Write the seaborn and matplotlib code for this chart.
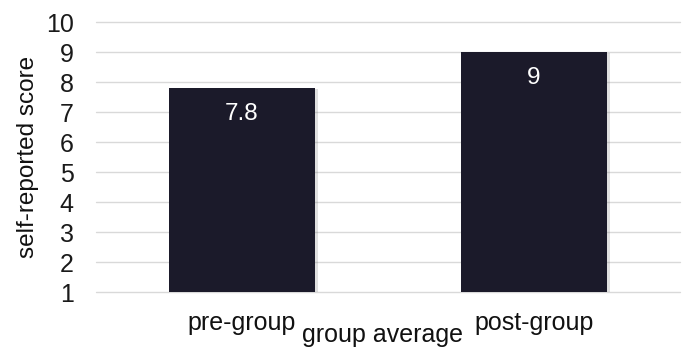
import matplotlib
matplotlib.use("Agg")
import matplotlib.pyplot as plt
import matplotlib.patheffects as pe
import seaborn as sns
import pandas as pd

# Survey results: average self-reported score before and after the group
categories = ["pre-group", "post-group"]
scores = [7.8, 9]
y_ticks = [1, 2, 3, 4, 5, 6, 7, 8, 9, 10]

df = pd.DataFrame({"phase": categories, "score": scores})

sns.set_theme(style="white")
plt.rcParams["font.family"] = ["Liberation Sans", "DejaVu Sans"]

fig = plt.figure(figsize=(6.86, 3.47), dpi=100)
ax = fig.add_axes([0.140, 0.1585, 0.851, 0.778])

bar_color = "#1b1a2a"
sns.barplot(data=df, x="phase", y="score", color=bar_color, width=0.5,
            saturation=1, ax=ax, zorder=3)

shadow = [pe.SimplePatchShadow(offset=(2, -1), alpha=0.18, shadow_rgbFace="#555555"),
          pe.Normal()]
for patch in ax.patches:
    patch.set_edgecolor("none")
    patch.set_path_effects(shadow)

# value labels inside the top of each bar
for i, v in enumerate(scores):
    ax.annotate(f"{v:g}", xy=(i, v), xytext=(0, -10.5), textcoords="offset points",
                ha="center", va="top", color="white", fontsize=17.5, zorder=4)

ax.set_ylim(1, 10)
ax.set_xlim(-0.5, 1.5)
ax.set_yticks(y_ticks)
ax.yaxis.grid(True, color="#d9d9d9", linewidth=1.0, zorder=0)
ax.xaxis.grid(False)
for line in ax.get_ygridlines():
    line.set_clip_on(False)
for side in ["top", "right", "left", "bottom"]:
    ax.spines[side].set_visible(False)

ax.tick_params(axis="y", length=0, pad=16, labelsize=18, labelcolor="#1a1a1a")
ax.tick_params(axis="x", length=0, pad=14, labelsize=18, labelcolor="#111111")

ax.set_ylabel("self-reported score", fontsize=17.5, color="#111111")
ax.yaxis.set_label_coords(-0.097, 0.5)
ax.set_xlabel("group average", fontsize=18, color="#111111")
ax.xaxis.set_label_coords(0.49, -0.116)

fig.savefig("out.png", dpi=100, facecolor="white")
